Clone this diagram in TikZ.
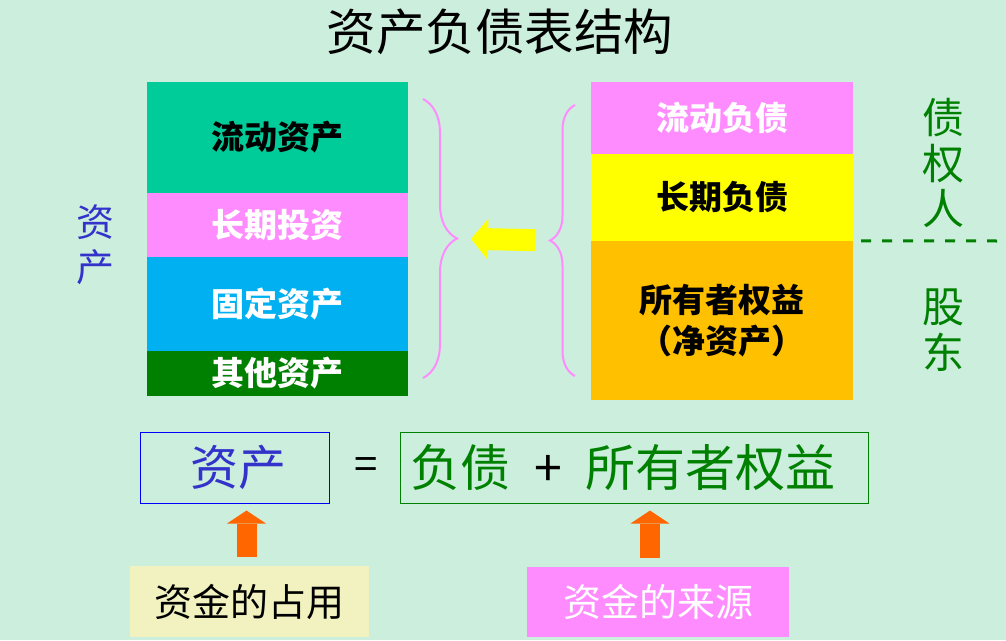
\documentclass[tikz,border=0pt]{standalone}
\usepackage{fontspec}
\setmainfont{Noto Sans CJK SC}
\usetikzlibrary{positioning,arrows.meta,decorations.pathreplacing}
\definecolor{zcfundo}{HTML}{CCEEDD}
\definecolor{zcqing}{HTML}{00CC99}
\definecolor{zcfen}{HTML}{FF8CFF}
\definecolor{zclan}{HTML}{00B0F0}
\definecolor{zcshenlv}{HTML}{008000}
\definecolor{zchuang}{HTML}{FFFF00}
\definecolor{zcjin}{HTML}{FFC000}
\definecolor{zcchen}{HTML}{FF6600}
\definecolor{zcmihuang}{HTML}{F2F2C0}
\definecolor{zczilan}{HTML}{3333CC}
\tikzset{
  zckuai/.style={inner sep=0pt, align=center, minimum width=261pt,
                 font=\fontsize{33}{41}\selectfont\bfseries},
  zckuang/.style={draw, line width=1pt, inner sep=0pt, minimum height=71pt},
  zcbiaoqian/.style={inner sep=0pt, minimum height=71pt, font=\fontsize{38}{38}\selectfont},
  zcshu/.style={inner sep=0pt, align=center},
  zckuohao/.style={draw=zcfen, line width=2pt, decorate},
  zcjiantou/.style={-{Triangle[width=41pt, length=17pt, line width=0pt]}, line width=22pt, draw=zchuang},
  zcshangjian/.style={-{Triangle[width=39pt, length=13pt, line width=0pt]}, line width=20pt, draw=zcchen},
}
\begin{document}
\begin{tikzpicture}[x=1pt, y=-1pt]
        \useasboundingbox (0,0) rectangle (1006,640);
        \fill[zcfundo] (0,0) rectangle (1006,640);
        % ---------------- titulo ----------------
        \node[font=\fontsize{49.5}{49.5}\selectfont] (titulo) at (500,32) {资产负债表结构};
        % ---------------- coluna de ativos ----------------
        \node[zckuai, fill=zcqing, minimum height=111pt] (ldzc) at (277.5,137.5) {流动资产};
        \node[zckuai, fill=zcfen, text=white, minimum height=64pt] (cqtz) at (277.5,225) {长期投资};
        \node[zckuai, fill=zclan, text=white, minimum height=94pt] (gdzc) at (277.5,304) {固定资产};
        \node[zckuai, fill=zcshenlv, text=white, minimum height=45pt] (qtzc) at (277.5,373.5) {其他资产};
        \node[zcshu, text=zczilan, font=\fontsize{38}{45}\selectfont] (zichan) at (95,245) {资\\产};
        % ---------------- coluna de fontes ----------------
        \node[zckuai, fill=zcfen, text=white, minimum width=262pt, minimum height=72pt] (ldfz) at (722,118) {流动负债};
        \node[zckuai, fill=zchuang, minimum width=262pt, minimum height=87pt] (cqfz) at (722,197.5) {长期负债};
        \node[zckuai, fill=zcjin, minimum width=262pt, minimum height=159pt] (syzqy) at (722,320.5) {所有者权益\\（净资产）};
        \node[zcshu, text=zcshenlv, font=\fontsize{42}{45.5}\selectfont] (zqr) at (943,163) {债\\权\\人};
        \node[zcshu, text=zcshenlv, font=\fontsize{42}{45.5}\selectfont] (gudong) at (943,330) {股\\东};
        \coordinate (fimtraco) at (999,241);
        \draw[zcshenlv, line width=3pt, dash pattern=on 10pt off 11pt] ([xshift=8pt]syzqy.north east) -- (fimtraco);
        % ---------------- chaves e seta ----------------
        \coordinate (lcima) at (423,99);
        \coordinate (lbaixo) at (423,378);
        \coordinate (rcima) at (575,105);
        \coordinate (rbaixo) at (575,376);
        \draw[zckuohao, decoration={brace, amplitude=34pt}] (lcima) -- (lbaixo) coordinate[pos=0.5, xshift=34pt] (lponta);
        \draw[zckuohao, decoration={brace, amplitude=25pt}] (rbaixo) -- (rcima) coordinate[pos=0.5, xshift=-25pt] (rponta);
        \draw[zcjiantou, shorten <=14pt, shorten >=14pt] (rponta) -- (lponta);
        % ---------------- equacao ----------------
        \node[zckuang, draw=blue, minimum width=189pt, text=zczilan, font=\fontsize{48}{48}\selectfont] (zcbox) at (234.5,467.5) {\hspace{8pt}资产};
        \node[font=\fontsize{42}{42}\selectfont] (igual) at (366,469) {=};
        \node[zckuang, draw=zcshenlv, text width=448pt, inner xsep=10pt, align=left, text=zcshenlv,
              font=\fontsize{50}{50}\selectfont] (qybox) at (634,467.5) {负债\hspace{24pt}{\color{black}+}\hspace{24pt}所有者权益};
        % ---------------- rotulos de baixo ----------------
        \node[zcbiaoqian, fill=zcmihuang, minimum width=239pt] (zhanyong) at (249.5,601.5) {资金的占用};
        \node[zcbiaoqian, fill=zcfen, text=white, minimum width=262pt, minimum height=70pt] (laiyuan) at (658,602) {资金的来源};
        \draw[zcshangjian, shorten <=9pt, shorten >=7pt] ([xshift=-3pt]zhanyong.north) -- ([xshift=-3pt]zhanyong.north |- zcbox.south);
        \draw[zcshangjian, shorten <=9pt, shorten >=7pt] ([xshift=-8pt]laiyuan.north) -- ([xshift=-8pt]laiyuan.north |- qybox.south);
\end{tikzpicture}
\end{document}
